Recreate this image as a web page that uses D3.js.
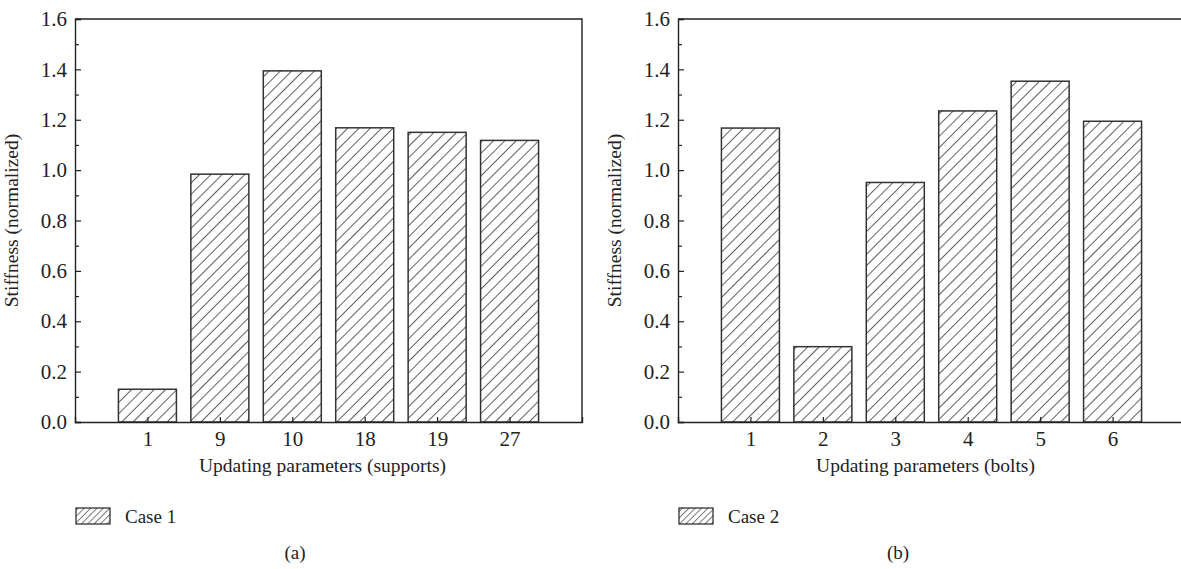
<!DOCTYPE html>
<html>
<head>
<meta charset="utf-8">
<script src="https://cdn.jsdelivr.net/npm/d3@7"></script>
<style>
  body { margin: 0; background: #fff; }
  svg { display: block; font-family: "Liberation Serif", "DejaVu Serif", serif; }
</style>
</head>
<body>
<svg width="1181" height="569"></svg>
<script>
// data
var casesA = ["1", "9", "10", "18", "19", "27"];
var stiffA = [0.13, 0.984, 1.394, 1.168, 1.150, 1.118];
var casesB = ["1", "2", "3", "4", "5", "6"];
var stiffB = [1.167, 0.299, 0.951, 1.235, 1.353, 1.194];
var yTicks = [0.0, 0.2, 0.4, 0.6, 0.8, 1.0, 1.2, 1.4, 1.6];

var svg = d3.select("svg");

// hatch patterns
var defs = svg.append("defs");
defs.append("pattern")
    .attr("id", "hatch")
    .attr("patternUnits", "userSpaceOnUse")
    .attr("width", 8).attr("height", 8)
    .attr("patternTransform", "rotate(45)")
  .append("line")
    .attr("x1", 0).attr("y1", 0).attr("x2", 0).attr("y2", 8)
    .attr("stroke", "#1a1a1a").attr("stroke-width", 1.4);
defs.append("pattern")
    .attr("id", "hatchSmall")
    .attr("patternUnits", "userSpaceOnUse")
    .attr("width", 4.5).attr("height", 4.5)
    .attr("patternTransform", "rotate(45)")
  .append("line")
    .attr("x1", 0).attr("y1", 0).attr("x2", 0).attr("y2", 4.5)
    .attr("stroke", "#111").attr("stroke-width", 1.1);

var plotW = 507, plotTop = 19, plotBottom = 422;

function panel(left, cats, vals, xTitle, legendText, caption) {
  var g = svg.append("g");
  var x = d3.scaleLinear().domain([0, 7]).range([left, left + plotW]);
  var y = d3.scaleLinear().domain([0, 1.6]).range([plotBottom, plotTop]);
  var barW = 58;

  // bars
  g.selectAll(".bar").data(vals).enter().append("rect")
      .attr("class", "bar")
      .attr("x", function(d, i) { return x(i + 1) - barW / 2; })
      .attr("y", function(d) { return y(d); })
      .attr("width", barW)
      .attr("height", function(d) { return y(0) - y(d); })
      .attr("fill", "url(#hatch)")
      .attr("stroke", "#333").attr("stroke-width", 1.5);

  // frame: top and right (no ticks)
  g.append("path")
      .attr("d", "M" + x(0) + "," + y(1.6) + "H" + x(7) + "V" + y(0))
      .attr("fill", "none").attr("stroke", "#222").attr("stroke-width", 1.4);

  // y axis
  var ya = g.append("g").attr("transform", "translate(" + x(0) + ",0)")
      .call(d3.axisLeft(y).tickValues(yTicks).tickSize(-6).tickPadding(8)
        .tickFormat(d3.format(".1f")));
  ya.selectAll(".tick")
      .append("line").attr("x2", 4).attr("stroke", "#222")
      .attr("transform", "translate(0," + (y(0.1) - y(0)) + ")")
      .filter(function(d) { return d >= 1.6; }).remove();

  // x axis
  var xa = g.append("g").attr("transform", "translate(0," + y(0) + ")")
      .call(d3.axisBottom(x).tickValues(d3.range(1, cats.length + 1)).tickSize(-5).tickPadding(9)
        .tickFormat(function(d) { return cats[d - 1]; }));

  [ya, xa].forEach(function(a) {
    a.attr("font-family", null).attr("font-size", null);
    a.select(".domain").attr("stroke", "#222").attr("stroke-width", 1.4);
    a.selectAll(".tick line").attr("stroke", "#222").attr("stroke-width", 1.2);
    a.selectAll("text").attr("font-size", 21).attr("fill", "#222")
      .attr("font-family", "Liberation Serif, serif");
  });

  // titles
  g.append("text")
      .attr("transform", "translate(" + (left - 57) + "," + ((plotTop + plotBottom) / 2) + ") rotate(-90)")
      .attr("text-anchor", "middle").attr("font-size", 19.5).attr("fill", "#222")
      .text("Stiffness (normalized)");
  g.append("text")
      .attr("x", (x(0) + x(7)) / 2 - 6).attr("y", 472)
      .attr("text-anchor", "middle").attr("font-size", 19.5).attr("fill", "#222")
      .text(xTitle);

  // legend
  g.append("rect")
      .attr("x", left + 1).attr("y", 508).attr("width", 34).attr("height", 16)
      .attr("fill", "url(#hatchSmall)").attr("stroke", "#222").attr("stroke-width", 1.2);
  g.append("text")
      .attr("x", left + 50).attr("y", 523)
      .attr("font-size", 19).attr("fill", "#222")
      .text(legendText);

  // caption
  g.append("text")
      .attr("x", left + 220).attr("y", 559)
      .attr("text-anchor", "middle").attr("font-size", 19).attr("fill", "#222")
      .text(caption);
}

panel(75, casesA, stiffA, "Updating parameters (supports)", "Case 1", "(a)");
panel(678, casesB, stiffB, "Updating parameters (bolts)", "Case 2", "(b)");
</script>
</body>
</html>
